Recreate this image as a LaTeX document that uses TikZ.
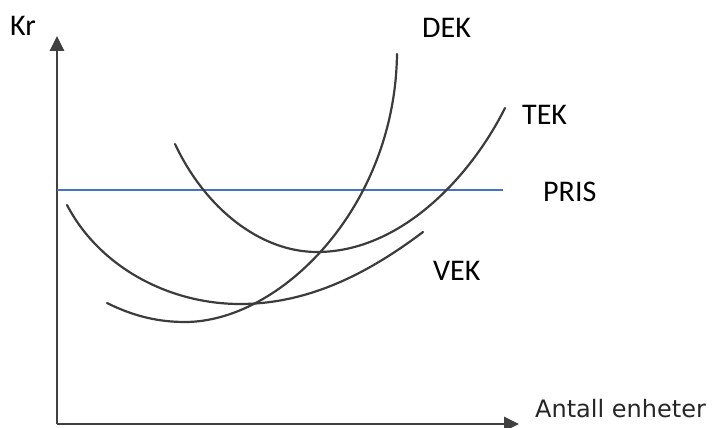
\documentclass[tikz,border=0pt]{standalone}
\usepackage{fontspec}
\setmainfont{Carlito}
\newfontfamily\axisfont{DejaVu Sans}
\usetikzlibrary{arrows.meta}
\definecolor{curvegray}{HTML}{3C3C3C}
\definecolor{axisgray}{HTML}{404040}
\definecolor{prisblue}{HTML}{4472C4}
\tikzset{
  axisline/.style={draw=axisgray, line width=2.8pt, -{Triangle[length=15pt,width=14pt]}},
  costcurve/.style={draw=curvegray, line width=2.2pt, line cap=round},
  lbl/.style={anchor=base west, inner sep=0pt, font=\fontsize{30}{30}\selectfont},
}
\begin{document}
\begin{tikzpicture}[x=1pt,y=1pt]
\useasboundingbox (0,0) rectangle (712,428);
% axes
\coordinate (O) at (57,4);
\coordinate (ytip) at (57,392);
\coordinate (xtip) at (519,4);
\draw[axisline] (O) -- (ytip);
\draw[axisline] (O) -- (xtip);
% price line
\coordinate (p1) at (57,238);
\coordinate (p2) at (503,238);
\draw[draw=prisblue, line width=2.4pt] (p1) -- (p2);
% DEK
\coordinate (dek0) at (107,125);
\coordinate (dekmin) at (185,106);
\coordinate (dek1) at (397,374);
\draw[costcurve] (dek0) .. controls (135,111) and (160,106) .. (dekmin)
  .. controls (280,106) and (395,220) .. (dek1);
% TEK
\coordinate (tek0) at (175,284);
\coordinate (tekmin) at (317,176);
\coordinate (tek1) at (505,320);
\draw[costcurve] (tek0) .. controls (205,220) and (260,176) .. (tekmin)
  .. controls (400,176) and (470,250) .. (tek1);
% VEK
\coordinate (vek0) at (67,223);
\coordinate (vekmin) at (240,124);
\coordinate (vek1) at (423,196);
\draw[costcurve] (vek0) .. controls (100,160) and (170,124) .. (vekmin)
  .. controls (310,124) and (370,156) .. (vek1);
% labels
\node[lbl] (kr) at (10,392) {Kr};
\node[lbl] (dek) at (422,390) {DEK};
\node[lbl] (tek) at (522,303) {TEK};
\node[lbl] (pris) at (543,226) {PRIS};
\node[lbl] (vek) at (433,147) {VEK};
\node[anchor=base west, inner sep=0pt, font=\axisfont\fontsize{24}{24}\selectfont, text=black!85] (xlab) at (535,10) {Antall enheter};
\end{tikzpicture}
\end{document}
